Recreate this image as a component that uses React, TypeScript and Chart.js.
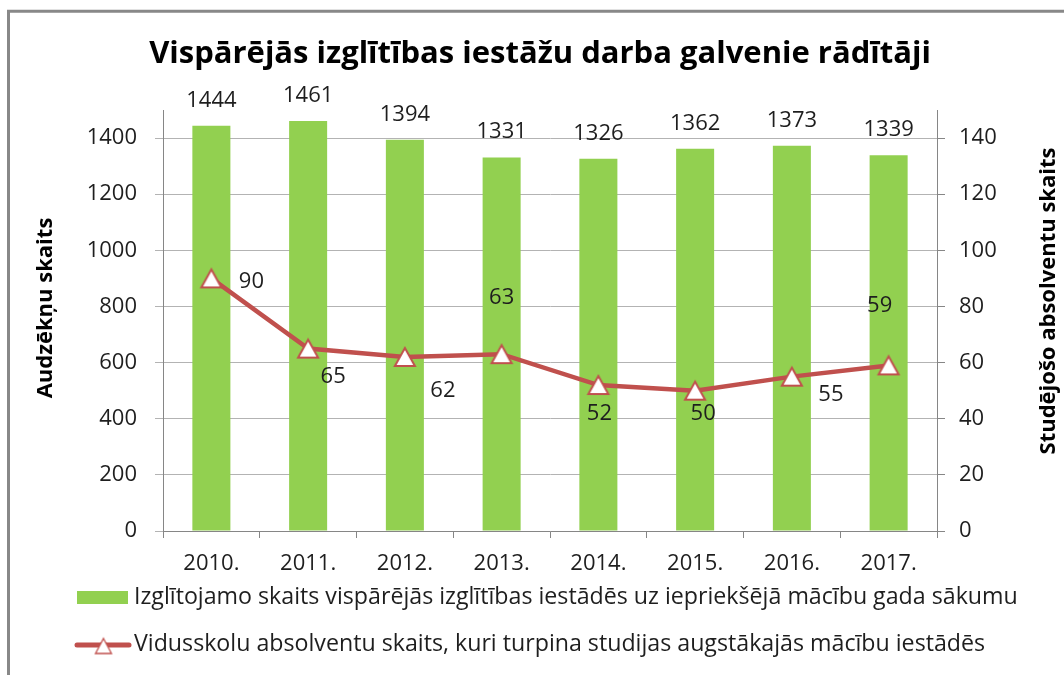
import React, { useEffect, useRef } from 'react';
import { Chart, registerables } from 'chart.js';

Chart.register(...registerables);

const chartTitle = 'Vispārējās izglītības iestāžu darba galvenie rādītāji';
const years = ['2010.', '2011.', '2012.', '2013.', '2014.', '2015.', '2016.', '2017.'];
const students = [1444, 1461, 1394, 1331, 1326, 1362, 1373, 1339];
const graduates = [90, 65, 62, 63, 52, 50, 55, 59];
const leftAxisTitle = 'Audzēkņu skaits';
const rightAxisTitle = 'Studējošo absolventu skaits';
const barSeriesName = 'Izglītojamo skaits vispārējās izglītības iestādēs uz iepriekšējā mācību gada sākumu';
const lineSeriesName = 'Vidusskolu absolventu skaits, kuri turpina studijas augstākajās mācību iestādēs';
const leftAxisMax = 1500;
const leftAxisStep = 200;
const leftAxisLastTick = 1400;
const rightAxisMax = 150;
const rightAxisStep = 20;
const rightAxisLastTick = 140;

// label placement offsets (dx, dy) from each line point, in px
const lineLabelOffsets: [number, number][] = [
  [40, 3], [25, 28], [38, 34], [0, -56], [1, 29], [8, 23], [39, 18], [-9, -60],
];

const W = 1064;
const H = 675;
const FONT = '"Open Sans", Lato, sans-serif';
const TEXT = '#1e1e1e';
const GREEN = '#92D050';
const RED = '#C0504D';

function makeTriangle(w: number, h: number, lw: number): HTMLCanvasElement {
  const pad = Math.ceil(lw) + 1;
  const c = document.createElement('canvas');
  c.width = Math.ceil(w + pad * 2);
  c.height = Math.ceil(h + pad * 2);
  const ctx = c.getContext('2d') as CanvasRenderingContext2D;
  const cx = c.width / 2;
  const cy = c.height / 2;
  ctx.beginPath();
  ctx.moveTo(cx, cy - h / 2);
  ctx.lineTo(cx + w / 2, cy + h / 2);
  ctx.lineTo(cx - w / 2, cy + h / 2);
  ctx.closePath();
  ctx.fillStyle = '#ffffff';
  ctx.fill();
  ctx.lineWidth = lw;
  ctx.lineJoin = 'miter';
  ctx.strokeStyle = RED;
  ctx.stroke();
  return c;
}

const decorPlugin = {
  id: 'decor',
  beforeDraw(chart: any) {
    const ctx = chart.ctx as CanvasRenderingContext2D;
    ctx.save();
    ctx.fillStyle = '#ffffff';
    ctx.fillRect(0, 0, W, H);
    ctx.strokeStyle = '#888888';
    ctx.lineWidth = 3;
    ctx.beginPath();
    ctx.moveTo(8.5, H);
    ctx.lineTo(8.5, 11.3);
    ctx.lineTo(W, 11.3);
    ctx.stroke();
    ctx.restore();
  },
  afterDatasetsDraw(chart: any) {
    const ctx = chart.ctx as CanvasRenderingContext2D;
    ctx.save();
    ctx.font = `22px ${FONT}`;
    ctx.fillStyle = TEXT;
    ctx.textAlign = 'center';
    ctx.textBaseline = 'alphabetic';
    const barMeta = chart.getDatasetMeta(1);
    barMeta.data.forEach((el: any, i: number) => {
      ctx.fillText(String(students[i]), el.x, el.y - 19);
    });
    ctx.textBaseline = 'middle';
    const lineMeta = chart.getDatasetMeta(0);
    lineMeta.data.forEach((el: any, i: number) => {
      const [dx, dy] = lineLabelOffsets[i];
      ctx.fillText(String(graduates[i]), el.x + dx, el.y + dy);
    });
    ctx.restore();
  },
  afterDraw(chart: any) {
    const ctx = chart.ctx as CanvasRenderingContext2D;
    ctx.save();
    // title
    ctx.fillStyle = '#000000';
    ctx.font = `bold 31px ${FONT}`;
    ctx.textAlign = 'center';
    ctx.textBaseline = 'middle';
    ctx.fillText(chartTitle, 540, 54);

    // axis titles
    ctx.font = `bold 22px ${FONT}`;
    ctx.fillStyle = '#000000';
    ctx.save();
    ctx.translate(46, 308);
    ctx.rotate(-Math.PI / 2);
    ctx.fillText(leftAxisTitle, 0, 0);
    ctx.restore();
    ctx.save();
    ctx.translate(1049, 301);
    ctx.rotate(-Math.PI / 2);
    ctx.fillText(rightAxisTitle, 0, 0);
    ctx.restore();

    // legend
    ctx.font = `23.2px ${FONT}`;
    ctx.textAlign = 'left';
    ctx.textBaseline = 'middle';
    ctx.fillStyle = GREEN;
    ctx.fillRect(77, 591, 51, 13);
    ctx.fillStyle = TEXT;
    ctx.fillText(barSeriesName, 134, 597);

    ctx.strokeStyle = RED;
    ctx.lineWidth = 5;
    ctx.lineCap = 'round';
    ctx.beginPath();
    ctx.moveTo(77, 645);
    ctx.lineTo(129, 645);
    ctx.stroke();
    const legTri = makeTriangle(16, 15, 1.3);
    ctx.drawImage(legTri, 103.5 - legTri.width / 2, 646 - legTri.height / 2);
    ctx.fillStyle = TEXT;
    ctx.fillText(lineSeriesName, 134, 644);
    ctx.restore();
  },
};

export default function App() {
  const canvasRef = useRef<HTMLCanvasElement | null>(null);

  useEffect(() => {
    const canvas = canvasRef.current;
    if (!canvas) return;
    const tickFont = { family: FONT, size: 22 };
    const marker = makeTriangle(20, 18, 2);
    const chart = new Chart(canvas, {
      type: 'bar',
      data: {
        labels: years,
        datasets: [
          {
            type: 'line',
            label: lineSeriesName,
            data: graduates,
            yAxisID: 'y1',
            borderColor: RED,
            borderWidth: 4.5,
            backgroundColor: '#ffffff',
            pointStyle: marker,
            pointRadius: 11,
            tension: 0,
            order: 0,
          } as any,
          {
            type: 'bar',
            label: barSeriesName,
            data: students,
            yAxisID: 'y',
            backgroundColor: GREEN,
            borderWidth: 0,
            categoryPercentage: 1,
            barPercentage: 0.393,
            order: 1,
          } as any,
        ],
      },
      options: {
        responsive: false,
        animation: false,
        devicePixelRatio: 1,
        layout: { padding: { top: 110, left: 0, right: 0, bottom: 0 } },
        plugins: {
          legend: { display: false },
          title: { display: false },
          tooltip: { enabled: false },
        },
        scales: {
          x: {
            type: 'category',
            offset: true,
            grid: { offset: true, drawOnChartArea: false, tickLength: 7, color: '#868686' },
            border: { color: '#868686', width: 1 },
            ticks: { font: tickFont, color: TEXT, padding: 13, maxRotation: 0 },
            afterFit(scale: any) { scale.height = 144; },
          },
          y: {
            position: 'left',
            min: 0,
            max: leftAxisMax,
            ticks: {
              stepSize: leftAxisStep,
              font: tickFont,
              color: TEXT,
              padding: 18,
              callback: (v: any) => String(v),
            },
            grid: { color: '#B3B3B3', tickLength: 8 },
            border: { color: '#868686', width: 1 },
            afterBuildTicks(scale: any) {
              scale.ticks = scale.ticks.filter((t: any) => t.value <= leftAxisLastTick);
            },
            afterFit(scale: any) { scale.width = 163; },
          },
          y1: {
            position: 'right',
            min: 0,
            max: rightAxisMax,
            ticks: {
              stepSize: rightAxisStep,
              font: tickFont,
              color: TEXT,
              padding: 14,
              callback: (v: any) => String(v),
            },
            grid: { drawOnChartArea: false, color: '#868686', tickLength: 8 },
            border: { color: '#868686', width: 1 },
            afterBuildTicks(scale: any) {
              scale.ticks = scale.ticks.filter((t: any) => t.value <= rightAxisLastTick);
            },
            afterFit(scale: any) { scale.width = 127; },
          },
        },
      } as any,
      plugins: [decorPlugin],
    });
    return () => chart.destroy();
  }, []);

  return (
    <div style={{ position: 'absolute', left: 0, top: 0, width: W, height: H, background: '#fff' }}>
      <canvas ref={canvasRef} width={W} height={H} style={{ display: 'block', width: W, height: H }} />
    </div>
  );
}
